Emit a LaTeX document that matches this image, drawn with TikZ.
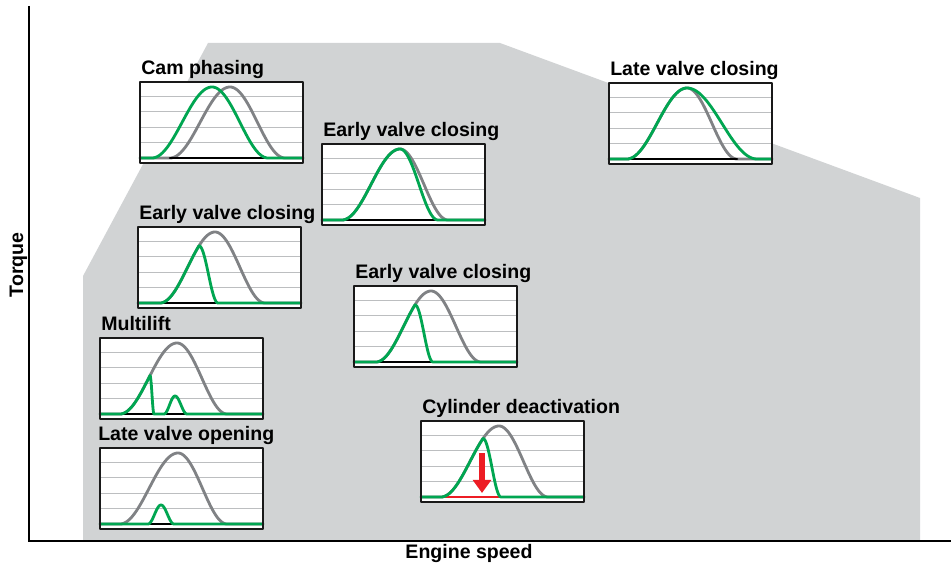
\documentclass[tikz,border=0pt]{standalone}
\usepackage{fontspec}
\setmainfont{Liberation Sans}
\usepackage{tikz}
\usetikzlibrary{arrows.meta}
\definecolor{areagray}{HTML}{D1D3D4}
\definecolor{curvegray}{HTML}{808285}
\definecolor{gridgray}{HTML}{BCBEC0}
\definecolor{liftgreen}{HTML}{00A651}
\definecolor{arrowred}{HTML}{ED1C24}
\tikzset{
  every picture/.style={line join=round, line cap=round, x=0.025cm, y=0.025cm},
  title/.style={font=\fontsize{13.9}{16}\selectfont\bfseries, inner sep=0pt, anchor=base west},
  axisline/.style={black, line width=2pt, line join=miter, line cap=butt},
  gridline/.style={gridgray, line width=0.7pt},
  frame/.style={draw=black!90, line width=0.9pt},
  refcurve/.style={curvegray, line width=2pt},
  newcurve/.style={liftgreen, line width=2pt},
  window/.style={black, line width=1.8pt},
  cutarrow/.style={arrowred, line width=3.6pt, line cap=butt, -{Triangle[width=0.45cm,length=0.33cm]}},
  liftup/.style n args={4}{insert path={-- (#1,5)
    -- plot[samples=40,domain=#1:#2] (\x,{5+rise(\x,#1,#2,#4)})
    -- plot[samples=40,domain=#2:#3] (\x,{5+fall(\x,#2,#3,#4)})}},
  liftcut/.style n args={5}{insert path={-- (#1,5)
    -- plot[samples=40,domain=#1:#3] (\x,{5+rise(\x,#1,#2,#5)})
    -- plot[samples=30,domain=#3:#4] (\x,{5+fall(\x,#3,#4,rise(#3,#1,#2,#5))})}},
}

\begin{document}
\begin{tikzpicture}[declare function={
    rise(\t,\a,\p,\h)=\h*(1-cos(180*(\t-\a)/(\p-\a)))/2;
    fall(\t,\p,\e,\h)=\h*(1+cos(180*(\t-\p)/(\e-\p)))/2;}]
\useasboundingbox (0,0) rectangle (951,565);
% operating area and axes
\fill[areagray] (83,24) -- (83,289) -- (208,522) -- (500,522) -- (920,367) -- (920,24) -- cycle;
\draw[axisline] (29,559) -- (29,24) -- (951,24);
\node[title, anchor=base, rotate=90] (torque) at (23,300) {Torque};
\node[title, anchor=base] (speed) at (469,7) {Engine speed};
% cam phasing
\begin{scope}[shift={(140,402)}]
  \fill[white] (0,0) rectangle (163,81);
  \foreach \g in {20.5,36,51.5,67} \draw[gridline] (0,\g) -- (163,\g);
  \draw[refcurve] (0,5) [liftup={30}{90}{145}{71}] -- (163,5);
  \draw[window] (30,5) -- (145,5);
  \draw[newcurve] (0,5) [liftup={12}{72}{128}{71}] -- (163,5);
  \draw[frame] (0,0) rectangle (163,81);
  \node[title] (camtitle) at (1,88.5) {Cam phasing};
\end{scope}
% early valve closing, upper middle
\begin{scope}[shift={(322,340)}]
  \fill[white] (0,0) rectangle (163,81);
  \foreach \g in {20.5,36,51.5,67} \draw[gridline] (0,\g) -- (163,\g);
  \draw[refcurve] (0,5) [liftup={20}{78}{126}{71}] -- (163,5);
  \draw[window] (20,5) -- (126,5);
  \draw[newcurve] (0,5) [liftup={20}{78}{116}{71}] -- (163,5);
  \draw[frame] (0,0) rectangle (163,81);
  \node[title] (evctitle) at (1,88.5) {Early valve closing};
\end{scope}
% late valve closing
\begin{scope}[shift={(609,401)}]
  \fill[white] (0,0) rectangle (163,81);
  \foreach \g in {20.5,36,51.5,67} \draw[gridline] (0,\g) -- (163,\g);
  \draw[refcurve] (0,5) [liftup={18}{78}{128}{71}] -- (163,5);
  \draw[window] (18,5) -- (128,5);
  \draw[newcurve] (0,5) [liftup={18}{78}{148}{71}] -- (163,5);
  \draw[frame] (0,0) rectangle (163,81);
  \node[title] (lvctitle) at (1,88.5) {Late valve closing};
\end{scope}
% early valve closing, left
\begin{scope}[shift={(138,257)}]
  \fill[white] (0,0) rectangle (163,81);
  \foreach \g in {20.5,36,51.5,67} \draw[gridline] (0,\g) -- (163,\g);
  \draw[refcurve] (0,5) [liftup={22}{77}{127}{71}] -- (163,5);
  \draw[window] (22,5) -- (127,5);
  \draw[newcurve] (0,5) [liftcut={22}{77}{61}{80}{71}] -- (163,5);
  \draw[frame] (0,0) rectangle (163,81);
  \node[title] (evcltitle) at (1,88.5) {Early valve closing};
\end{scope}
% early valve closing, centre
\begin{scope}[shift={(354,198)}]
  \fill[white] (0,0) rectangle (163,81);
  \foreach \g in {20.5,36,51.5,67} \draw[gridline] (0,\g) -- (163,\g);
  \draw[refcurve] (0,5) [liftup={22}{77}{127}{71}] -- (163,5);
  \draw[window] (22,5) -- (127,5);
  \draw[newcurve] (0,5) [liftcut={22}{77}{61}{79}{71}] -- (163,5);
  \draw[frame] (0,0) rectangle (163,81);
  \node[title] (evcctitle) at (1,88.5) {Early valve closing};
\end{scope}
% multilift
\begin{scope}[shift={(100,146)}]
  \fill[white] (0,0) rectangle (163,81);
  \foreach \g in {20.5,36,51.5,67} \draw[gridline] (0,\g) -- (163,\g);
  \draw[refcurve] (0,5) [liftup={20}{77}{127}{71}] -- (163,5);
  \draw[window] (20,5) -- (127,5);
  \draw[newcurve] (0,5) [liftcut={20}{77}{50}{54}{71}] [liftup={64}{75}{87}{18}] -- (163,5);
  \draw[frame] (0,0) rectangle (163,81);
  \node[title] (multititle) at (1,88.5) {Multilift};
\end{scope}
% late valve opening
\begin{scope}[shift={(100,36)}]
  \fill[white] (0,0) rectangle (163,81);
  \foreach \g in {20.5,36,51.5,67} \draw[gridline] (0,\g) -- (163,\g);
  \draw[refcurve] (0,5) [liftup={20}{78}{127}{71}] -- (163,5);
  \draw[window] (20,5) -- (127,5);
  \draw[newcurve] (0,5) [liftup={48}{61}{74}{19}] -- (163,5);
  \draw[frame] (0,0) rectangle (163,81);
  \node[title] (lvotitle) at (-2,88.5) {Late valve opening};
\end{scope}
% cylinder deactivation
\begin{scope}[shift={(421,63)}]
  \fill[white] (0,0) rectangle (163,81);
  \foreach \g in {20.5,36,51.5,67} \draw[gridline] (0,\g) -- (163,\g);
  \draw[refcurve] (0,5) [liftup={20}{78}{127}{71}] -- (163,5);
  \draw[window, arrowred] (20,5) -- (127,5);
  \draw[newcurve] (0,5) [liftcut={20}{78}{62}{80}{71}] -- (163,5);
  \coordinate (cuttop) at (61,49);
  \coordinate (cuttip) at (61,9);
  \draw[cutarrow] (cuttop) -- (cuttip);
  \draw[frame] (0,0) rectangle (163,81);
  \node[title] (cyltitle) at (1,88.5) {Cylinder deactivation};
\end{scope}
\end{tikzpicture}
\end{document}
